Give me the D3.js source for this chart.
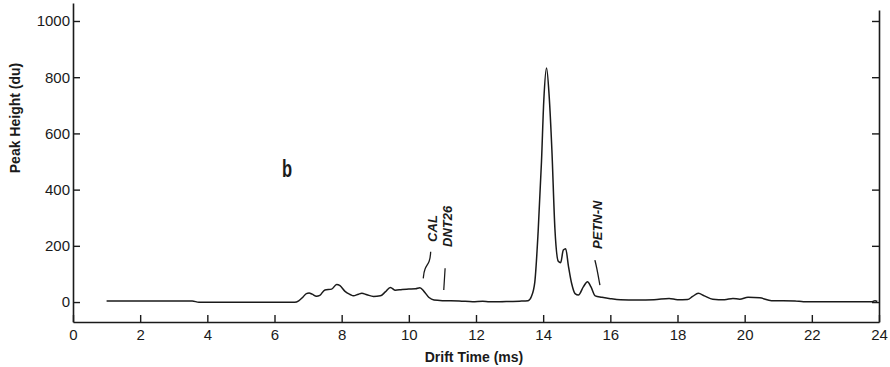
<!DOCTYPE html>
<html>
<head>
<meta charset="utf-8">
<script src="https://cdn.jsdelivr.net/npm/d3@7/dist/d3.min.js"></script>
<style>
  html, body { margin: 0; padding: 0; background: #fff; }
  svg { display: block; }
  .tick text { font-family: "Liberation Sans", Arial, sans-serif; font-size: 15px; fill: #1a1a1a; }
</style>
</head>
<body>
<svg id="chart" width="890" height="367"></svg>
<script>
// Ion mobility spectrum: drift time (ms) vs peak height (du)
const driftTime = [
  1.0, 3.55, 3.75, 6.6, 6.72, 6.85, 6.95, 7.03, 7.12, 7.25, 7.35, 7.5, 7.7, 7.85, 7.95,
  8.1, 8.25, 8.35, 8.5, 8.6, 8.75, 8.95, 9.15, 9.3, 9.45, 9.6, 9.8, 10.0, 10.2, 10.33,
  10.45, 10.6, 10.75, 11.0, 11.5, 11.9, 12.2, 12.4, 12.7, 13.0, 13.3, 13.55, 13.65, 13.75,
  13.85, 13.95, 14.02, 14.1, 14.18, 14.26, 14.35, 14.45, 14.52, 14.6, 14.67, 14.75, 14.85,
  14.95, 15.05, 15.2, 15.32, 15.42, 15.55, 15.75, 16.0, 16.3, 16.8, 17.3, 17.75, 18.0,
  18.3, 18.45, 18.62, 18.8, 19.05, 19.4, 19.65, 19.85, 20.1, 20.45, 20.8, 21.5, 21.75,
  23.8, 23.88, 23.95
];
const peakHeight = [
  4, 4, -1, -1, 4, 18, 30, 32, 28, 21, 24, 43, 46, 62, 58,
  38, 27, 22, 28, 31, 26, 20, 22, 36, 52, 42, 45, 46, 47, 51,
  38, 16, 7, 5, 4, 1, 3, 1, 1, 2, 3, 5, 20, 70,
  250, 500, 720, 833, 730, 540, 260, 145, 140, 185, 190, 130, 65,
  30, 25, 55, 72, 55, 22, 17, 12, 8, 7, 8, 13, 8,
  9, 20, 31, 22, 10, 8, 13, 10, 17, 15, 5, 4, 1,
  1, 5, 2
];

const xTicks = [0, 2, 4, 6, 8, 10, 12, 14, 16, 18, 20, 22, 24];
const yTicks = [0, 200, 400, 600, 800, 1000];

// Peak identification labels with their leader lines (data units)
const peakLabels = ["CAL", "DNT26", "PETN-N"];
const labelAnchors = [[10.84, 214], [11.29, 196], [15.75, 189]];
const leaderLines = [
  [[10.65, 179], [10.63, 143], [10.46, 120], [10.43, 84]],
  [[11.08, 120], [11.04, 43]],
  [[15.54, 149], [15.59, 126], [15.69, 60]]
];
const panelLetter = "b";
const panelPos = [6.22, 445];

const svg = d3.select("#chart");
const ink = "#1a1a1a";

const x = d3.scaleLinear().domain([0, 24]).range([73, 879]);
const y = d3.scaleLinear().domain([-71, 1064]).range([322, 3]);

// Axes with inward ticks
const xAxis = svg.append("g")
  .attr("transform", `translate(0,${y(-71)})`)
  .call(d3.axisBottom(x).tickValues(xTicks).tickFormat(d3.format("d"))
    .tickSizeInner(-7).tickSizeOuter(0).tickPadding(5));

const yAxis = svg.append("g")
  .attr("transform", `translate(${x(0)},0)`)
  .call(d3.axisLeft(y).tickValues(yTicks).tickFormat(d3.format("d"))
    .tickSizeInner(-7).tickSizeOuter(0).tickPadding(3));

const yAxisRight = svg.append("g")
  .attr("transform", `translate(${x(24)},0)`)
  .call(d3.axisRight(y.copy().range([322, 10]).domain([-71, y.invert(10)]))
    .tickValues(yTicks).tickSizeInner(-7).tickSizeOuter(0).tickFormat(""));

[xAxis, yAxis, yAxisRight].forEach(g => {
  g.selectAll("path.domain").attr("stroke", ink).attr("stroke-width", 1.6);
  g.selectAll(".tick line").attr("stroke", ink).attr("stroke-width", 1.4);
});
xAxis.selectAll(".tick text").attr("dy", "0.85em");

// Spectrum trace
const pts = driftTime.map((t, i) => [t, peakHeight[i]]);
const line = d3.line()
  .x(d => x(d[0]))
  .y(d => y(d[1]))
  .curve(d3.curveMonotoneX);

svg.append("path")
  .datum(pts)
  .attr("d", line)
  .attr("fill", "none")
  .attr("stroke", ink)
  .attr("stroke-width", 1.5)
  .attr("stroke-linejoin", "round");

// Leader lines
const leader = d3.line().x(d => x(d[0])).y(d => y(d[1])).curve(d3.curveBasis);
svg.selectAll("path.leader")
  .data(leaderLines)
  .join("path")
  .attr("class", "leader")
  .attr("d", leader)
  .attr("fill", "none")
  .attr("stroke", ink)
  .attr("stroke-width", 1.3);

// Peak names, rotated
svg.selectAll("text.peak")
  .data(peakLabels)
  .join("text")
  .attr("class", "peak")
  .attr("transform", (d, i) => `translate(${x(labelAnchors[i][0])},${y(labelAnchors[i][1])}) rotate(-90)`)
  .attr("font-family", "Liberation Sans, Arial, sans-serif")
  .attr("font-size", 13)
  .attr("font-weight", "bold")
  .attr("font-style", "italic")
  .attr("fill", ink)
  .text(d => d);

// Panel letter, tall condensed
svg.append("text")
  .attr("transform", `translate(${x(panelPos[0])},${y(panelPos[1])}) scale(0.72,1)`)
  .attr("font-family", "Liberation Sans, Arial, sans-serif")
  .attr("font-size", 23)
  .attr("font-weight", "bold")
  .attr("fill", ink)
  .text(panelLetter);

// Axis titles
svg.append("text")
  .attr("x", 474)
  .attr("y", 362)
  .attr("text-anchor", "middle")
  .attr("font-family", "Liberation Sans, Arial, sans-serif")
  .attr("font-size", 14)
  .attr("font-weight", "bold")
  .attr("fill", ink)
  .text("Drift Time (ms)");

svg.append("text")
  .attr("transform", "translate(20,118) rotate(-90)")
  .attr("text-anchor", "middle")
  .attr("font-family", "Liberation Sans, Arial, sans-serif")
  .attr("font-size", 14)
  .attr("font-weight", "bold")
  .attr("fill", ink)
  .text("Peak Height (du)");
</script>
</body>
</html>
